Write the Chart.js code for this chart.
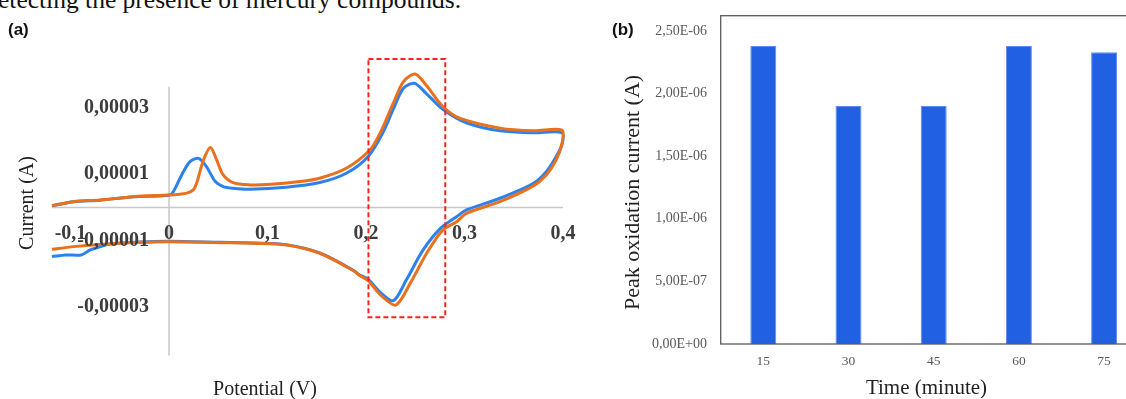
<!DOCTYPE html>
<html><head><meta charset="utf-8">
<script src="https://cdn.jsdelivr.net/npm/chart.js@4/dist/chart.umd.min.js"></script>
<style>
html,body{margin:0;padding:0;width:1126px;height:399px;overflow:hidden;background:#fff;}
#wrap{position:relative;width:1126px;height:399px;overflow:hidden;}
.cv{position:absolute;top:0;}
#caption{position:absolute;left:-2px;top:-13px;font-family:"Liberation Serif";font-size:25.5px;line-height:25.5px;white-space:nowrap;color:#111;}
.plabel{position:absolute;font-family:"Liberation Sans";font-weight:bold;font-size:17px;line-height:20px;color:#111;}
</style></head>
<body><div id="wrap">
<div id="caption">etecting the presence of mercury compounds.</div>
<canvas id="cvA" class="cv" width="600" height="399" style="left:0"></canvas>
<canvas id="cvB" class="cv" width="560" height="399" style="left:600px"></canvas>
<div class="plabel" style="left:8px;top:20px">(a)</div>
<div class="plabel" style="left:612px;top:20px">(b)</div>
</div>
<script>
// ---------- Panel (a): cyclic voltammograms ----------
const potentialOrange = [-0.1188,-0.097,-0.07,-0.036,0.0,0.011,0.018,0.0247,0.028,0.035,0.042,0.0484,0.055,0.065,0.082,0.100,0.133,0.153,0.180,0.204,0.2142,0.2277,0.238,0.2497,0.261,0.278,0.295,0.336,0.370,0.399,
  0.399,0.393,0.383,0.370,0.336,0.302,0.292,0.278,0.2616,0.245,0.2302,0.2142,0.202,0.194,0.187,0.153,0.119,0.086,0.052,0.0,-0.029,-0.063,-0.097,-0.1188];
const currentOrange = [0.55e-6,1.75e-6,2.26e-6,3.25e-6,3.77e-6,4.0e-6,4.3e-6,5.3e-6,7.3e-6,14.3e-6,18.1e-6,14.3e-6,9.8e-6,7.5e-6,6.8e-6,6.9e-6,7.8e-6,8.8e-6,11.8e-6,17.3e-6,22.3e-6,31.4e-6,37.9e-6,40.2e-6,36.9e-6,30.4e-6,26.9e-6,23.9e-6,23.1e-6,23.3e-6,
  19.3e-6,14.3e-6,9.8e-6,6.5e-6,1.75e-6,-1.75e-6,-4.3e-6,-6.8e-6,-13.8e-6,-22.8e-6,-29.4e-6,-26.2e-6,-22.0e-6,-20.6e-6,-19.0e-6,-13.8e-6,-11.3e-6,-10.8e-6,-10.6e-6,-10.3e-6,-10.5e-6,-11.0e-6,-11.8e-6,-12.6e-6];
const potentialBlue = [-0.1188,-0.097,-0.07,-0.036,0.0,0.0044,0.0129,0.0213,0.030,0.038,0.047,0.055,0.065,0.082,0.119,0.153,0.180,0.202,0.2176,0.2277,0.238,0.249,0.261,0.278,0.302,0.336,0.370,0.399,
  0.399,0.393,0.383,0.370,0.336,0.302,0.292,0.2756,0.258,0.241,0.2277,0.214,0.202,0.194,0.187,0.153,0.119,0.086,0.052,0.0,-0.029,-0.060,-0.070,-0.080,-0.089,-0.105,-0.1188];
const currentBlue = [0.5e-6,1.7e-6,2.2e-6,3.2e-6,3.7e-6,4.75e-6,9.8e-6,13.8e-6,14.8e-6,12.3e-6,7.8e-6,6.3e-6,5.8e-6,5.5e-6,6.1e-6,7.5e-6,10.3e-6,15.3e-6,22.8e-6,29.6e-6,35.9e-6,37.4e-6,34.4e-6,29.6e-6,25.5e-6,23.1e-6,22.5e-6,22.5e-6,
  19.0e-6,15.3e-6,10.8e-6,7.3e-6,2.77e-6,-0.75e-6,-2.8e-6,-6.3e-6,-12.8e-6,-21.8e-6,-28.1e-6,-25.4e-6,-21.6e-6,-20.4e-6,-18.9e-6,-13.7e-6,-11.2e-6,-10.7e-6,-10.5e-6,-10.2e-6,-10.4e-6,-11.0e-6,-11.8e-6,-12.8e-6,-14.3e-6,-14.3e-6,-14.8e-6];
const cvXTicks = [-0.1, 0, 0.1, 0.2, 0.3, 0.4];
const cvXTickLabels = ['-0,1', '0', '0,1', '0,2', '0,3', '0,4'];
const cvYTicks = [-3e-5, -1e-5, 1e-5, 3e-5];
const cvYTickLabels = ['-0,00003', '-0,00001', '0,00001', '0,00003'];
const cvAxisPotential = [-0.1188, 0.4];
const cvAxisCurrent = [-44.6e-6, 36.4e-6];
const highlightPotential = [0.2025, 0.2805];
const highlightCurrent = [-33.1e-6, 44.7e-6];

// ---------- Panel (b): peak oxidation current vs time ----------
const timeCategories = ['15', '30', '45', '60', '75'];
const peakCurrent = [2.38e-6, 1.90e-6, 1.90e-6, 2.38e-6, 2.33e-6];
const barYTicks = [0, 5e-7, 1e-6, 1.5e-6, 2e-6, 2.5e-6];
const barYTickLabels = ['0,00E+00', '5,00E-07', '1,00E-06', '1,50E-06', '2,00E-06', '2,50E-06'];

const toPoints = (xs, ys) => xs.map((v, i) => ({x: v, y: ys[i]}));

const cvAxisPlugin = {
  id: 'cvAxis',
  beforeDatasetsDraw(chart) {
    const {ctx, scales: {x, y}} = chart;
    const x0 = x.getPixelForValue(0), y0 = y.getPixelForValue(0);
    ctx.save();
    ctx.strokeStyle = '#c8c8c8'; ctx.lineWidth = 1.5;
    ctx.beginPath();
    ctx.moveTo(x.getPixelForValue(cvAxisPotential[0]), y0); ctx.lineTo(x.getPixelForValue(cvAxisPotential[1]), y0);
    ctx.moveTo(x0, y.getPixelForValue(cvAxisCurrent[1])); ctx.lineTo(x0, y.getPixelForValue(cvAxisCurrent[0]));
    ctx.stroke();
    ctx.restore();
  },
  afterDatasetsDraw(chart) {
    const {ctx, scales: {x, y}} = chart;
    const x0 = x.getPixelForValue(0), y0 = y.getPixelForValue(0);
    ctx.save();
    ctx.fillStyle = '#3c3c3c';
    ctx.font = 'bold 20px "Liberation Serif"';
    ctx.textAlign = 'right'; ctx.textBaseline = 'middle';
    cvYTicks.forEach((v, i) => ctx.fillText(cvYTickLabels[i], x0 - 20, y.getPixelForValue(v)));
    ctx.textAlign = 'center';
    cvXTicks.forEach((v, i) => ctx.fillText(cvXTickLabels[i], x.getPixelForValue(v), y0 + 26));
    // highlight box
    const l = x.getPixelForValue(highlightPotential[0]), r = x.getPixelForValue(highlightPotential[1]);
    const t = y.getPixelForValue(highlightCurrent[1]), b = y.getPixelForValue(highlightCurrent[0]);
    ctx.strokeStyle = '#ff1f1f'; ctx.lineWidth = 2; ctx.setLineDash([5, 3]);
    ctx.strokeRect(l, t, r - l, b - t);
    ctx.setLineDash([]);
    // titles
    ctx.fillStyle = '#222';
    ctx.font = '20px "Liberation Serif"';
    ctx.fillText('Potential (V)', 265, 390);
    ctx.translate(27.5, 203); ctx.rotate(-Math.PI / 2);
    ctx.fillText('Current (A)', 0, 0);
    ctx.restore();
  }
};

new Chart(document.getElementById('cvA'), {
  type: 'scatter',
  data: {
    datasets: [
      {label: 'orange', data: toPoints(potentialOrange, currentOrange), showLine: true, borderColor: '#e9701d', borderWidth: 3, pointRadius: 0, tension: 0.3, fill: false},
      {label: 'blue', data: toPoints(potentialBlue, currentBlue), showLine: true, borderColor: '#2c82ea', borderWidth: 3, pointRadius: 0, tension: 0.3, fill: false}
    ]
  },
  options: {
    responsive: false, animation: false, devicePixelRatio: 1,
    layout: {padding: {left: 40.95, right: 17.3, top: 41.5, bottom: 43.5}},
    scales: {
      x: {type: 'linear', display: false, min: -0.13, max: 0.42},
      y: {type: 'linear', display: false, min: -44.6e-6, max: 50e-6}
    },
    plugins: {legend: {display: false}, tooltip: {enabled: false}}
  },
  plugins: [cvAxisPlugin]
});

const barFramePlugin = {
  id: 'barFrame',
  afterDraw(chart) {
    const {ctx, chartArea: ca} = chart;
    ctx.save();
    ctx.strokeStyle = '#5a5a5a'; ctx.lineWidth = 1.3;
    ctx.strokeRect(ca.left, ca.top, ca.right - ca.left, ca.bottom - ca.top);
    ctx.fillStyle = '#222';
    ctx.textAlign = 'center'; ctx.textBaseline = 'middle';
    ctx.font = '21px "Liberation Serif"';
    ctx.fillText('Time (minute)', 326.5, 388);
    ctx.font = '22px "Liberation Serif"';
    ctx.translate(33, 192.5); ctx.rotate(-Math.PI / 2);
    ctx.fillText('Peak oxidation current (A)', 0, 0);
    ctx.restore();
  }
};

new Chart(document.getElementById('cvB'), {
  type: 'bar',
  data: {
    labels: timeCategories,
    datasets: [{label: 'Peak oxidation current', data: peakCurrent, backgroundColor: '#2160e2', borderColor: '#5b8cf0', borderWidth: 1, barPercentage: 0.305, categoryPercentage: 1}]
  },
  options: {
    responsive: false, animation: false, devicePixelRatio: 1,
    layout: {padding: {top: 15.7, right: 13.3, left: 0, bottom: 0}},
    scales: {
      x: {
        grid: {display: false, drawTicks: false}, border: {display: false},
        ticks: {font: {family: 'Liberation Serif', size: 13.5}, color: '#595959', padding: 9, autoSkip: false, maxRotation: 0},
        afterFit(s) { s.height = 55; s.paddingLeft = 0; s.paddingRight = 0; }
      },
      y: {
        min: 0, max: 2.622e-6,
        grid: {display: false, drawTicks: false}, border: {display: false},
        afterBuildTicks(s) { s.ticks = barYTicks.map(v => ({value: v})); },
        ticks: {callback: (v) => barYTickLabels[barYTicks.indexOf(v)], font: {family: 'Liberation Serif', size: 14}, color: '#595959', padding: 13.7},
        afterFit(s) { s.width = 120.7; s.paddingTop = 0; s.paddingBottom = 0; }
      }
    },
    plugins: {legend: {display: false}, tooltip: {enabled: false}}
  },
  plugins: [barFramePlugin]
});
</script>
</body></html>
